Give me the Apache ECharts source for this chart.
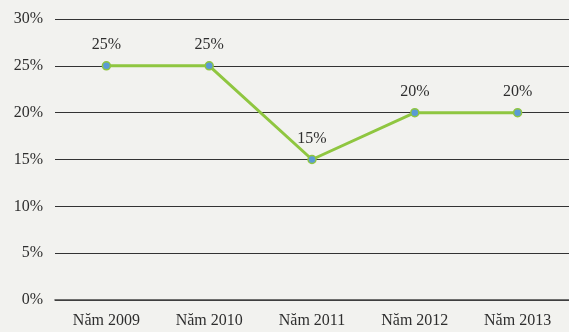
<!DOCTYPE html>
<html>
<head>
<meta charset="utf-8">
<script src="https://cdn.jsdelivr.net/npm/echarts@6/dist/echarts.min.js"></script>
<style>
  html, body { margin: 0; padding: 0; background: #f2f2ef; }
  #chart { width: 569px; height: 332px; }
</style>
</head>
<body>
<div id="chart"></div>
<script>
// Tỷ lệ theo năm
const categories = ['Năm 2009', 'Năm 2010', 'Năm 2011', 'Năm 2012', 'Năm 2013'];
const rates = [25, 25, 15, 20, 20];
const yTicks = [0, 5, 10, 15, 20, 25, 30];

const chart = echarts.init(document.getElementById('chart'));
const serif = '"Liberation Serif", "DejaVu Serif", serif';

chart.setOption({
  backgroundColor: '#f2f2ef',
  animation: false,
  grid: { left: 55, right: -1, top: 19, bottom: 32, containLabel: false },
  xAxis: {
    type: 'category',
    data: categories,
    boundaryGap: true,
    axisLine: { show: true, lineStyle: { color: '#444', width: 1.6 } },
    axisTick: { show: false },
    axisLabel: { color: '#2e2e2e', fontFamily: serif, fontSize: 16, margin: 13 }
  },
  yAxis: {
    type: 'value',
    min: yTicks[0],
    max: yTicks[yTicks.length - 1],
    interval: 5,
    axisLine: { show: false },
    axisTick: { show: false },
    axisLabel: { color: '#2e2e2e', fontFamily: serif, fontSize: 16, margin: 12, formatter: '{value}%' },
    splitLine: { lineStyle: { color: '#333', width: 1.2 } }
  },
  series: [{
    type: 'line',
    data: rates,
    symbol: 'circle',
    symbolSize: 8,
    lineStyle: { color: '#8fc640', width: 3 },
    itemStyle: { color: '#5b9bd5', borderColor: '#8fc640', borderWidth: 1.5 },
    label: {
      show: true,
      position: 'top',
      distance: 8,
      formatter: '{c}%',
      color: '#2e2e2e',
      fontFamily: serif,
      fontSize: 16
    }
  }]
});
</script>
</body>
</html>
